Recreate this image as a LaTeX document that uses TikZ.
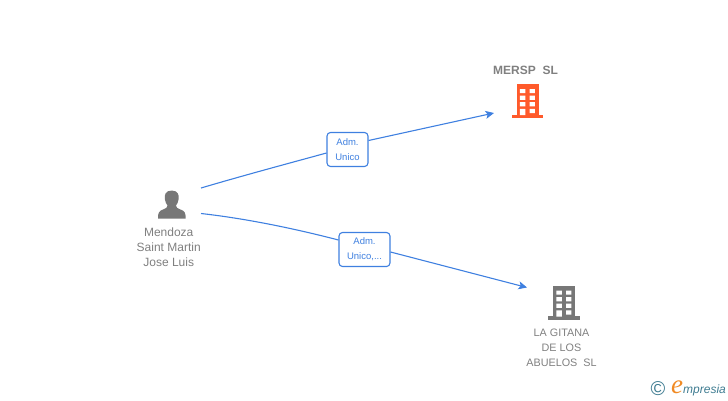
\documentclass[tikz,border=0pt]{standalone}
\usepackage{fontspec}
\setmainfont{Liberation Sans}
\newfontfamily\logoserif{Liberation Serif}
\usetikzlibrary{arrows.meta}
\definecolor{edgeblue}{HTML}{3F80E0}
\definecolor{txtgray}{HTML}{808080}
\definecolor{icongray}{HTML}{777777}
\definecolor{iconorange}{HTML}{FF5A2B}
\definecolor{logoblue}{HTML}{3F7C91}
\definecolor{logoorange}{HTML}{F08A24}
\tikzset{
  x=1pt,y=-1pt,
  conn/.style={draw=edgeblue,line width=1.1pt},
  tip/.style={-{Stealth[length=8.5pt,width=8pt,inset=2pt]}},
  rolebox/.style={draw=edgeblue,rounded corners=3.5pt,fill=white,line width=1.1pt,text=edgeblue,
    font=\fontsize{9.5}{15}\selectfont,align=center,inner sep=0pt},
  caption/.style={text=txtgray,font=\fontsize{12}{15}\selectfont,align=center,inner sep=0pt},
}
\newcommand{\bldg}[3]{%
  \begin{scope}[shift={(#1,#2)}]
    \fill[#3] (-10.8,0.3) rectangle (11,31.5);
    \fill[#3] (-16,30.8) rectangle (15.8,34);
    \fill[white]
      (-7.6,5) rectangle (-2.2,9.2)
      (2,5) rectangle (7.4,9.2)
      (-7.6,11.6) rectangle (-2.2,15.8)
      (2,11.6) rectangle (7.4,15.8)
      (-7.6,18.2) rectangle (-2.2,22.4)
      (2,18.2) rectangle (7.4,22.4)
      (-7.6,24.8) rectangle (-2.2,31)
      (2,24.8) rectangle (7.4,29);
  \end{scope}}
\begin{document}
\begin{tikzpicture}
\useasboundingbox (0,0) rectangle (728,400);
% icons
\bldg{527.5}{84}{iconorange}
\bldg{564}{285.5}{icongray}
\fill[icongray] (171.7,190.5) .. controls (165.5,190.5) and (164.2,195) .. (164.8,199)
  .. controls (165.1,202) and (166.5,204) .. (167.5,205.5)
  .. controls (167.5,207.5) and (166,208.5) .. (163,209.5)
  .. controls (159,211) and (158,212.5) .. (158,218.5)
  -- (185.7,218.5)
  .. controls (185.7,212.5) and (184.5,211) .. (180.5,209.5)
  .. controls (177.5,208.5) and (176,207.5) .. (176,205.5)
  .. controls (177,204) and (178.4,202) .. (178.7,199)
  .. controls (179.2,195) and (177.9,190.5) .. (171.7,190.5) -- cycle;
% captions
\node[caption,font=\bfseries\fontsize{12}{15}\selectfont] (mersp) at (525.5,70) {MERSP\ \ SL};
\node[caption] (person) at (168.7,247) {Mendoza\\Saint Martin\\Jose Luis};
\node[caption,font=\fontsize{10.8}{15}\selectfont] (gitana) at (561.5,347.5) {LA GITANA\\DE LOS\\ABUELOS\ \ SL};
% role boxes
\node[rolebox,minimum width=41pt,minimum height=34pt] (r1) at (347.5,149.5) {Adm.\\Unico};
\node[rolebox,minimum width=51pt,minimum height=34pt] (r2) at (364.5,249.5) {Adm.\\Unico,...};
% connector ends
\coordinate (a1) at (201,188);
\coordinate (a2) at (201,213.5);
\coordinate (b1) at (494,113);
\coordinate (b2) at (527,287.5);
\draw[conn] (a1) .. controls (245,175) and (290,163) .. (r1.west |- 0,153);
\draw[conn,tip] (r1.east |- 0,140.5) -- (b1);
\draw[conn] (a2) .. controls (250,219) and (300,230) .. (r2.west |- 0,240);
\draw[conn,tip] (r2.east |- 0,252) -- (b2);
% logo
\node[inner sep=0pt,text=logoblue,font=\fontsize{20}{20}\selectfont] (copy) at (658,389) {©};
\node[inner sep=0pt,text=logoorange,font=\logoserif\itshape\fontsize{27}{27}\selectfont] (loge) at (677,387.5) {e};
\node[inner sep=0pt,anchor=base west,text=logoblue,font=\itshape\fontsize{12}{13}\selectfont] (logt) at (683,393) {mpresia};
\end{tikzpicture}
\end{document}
